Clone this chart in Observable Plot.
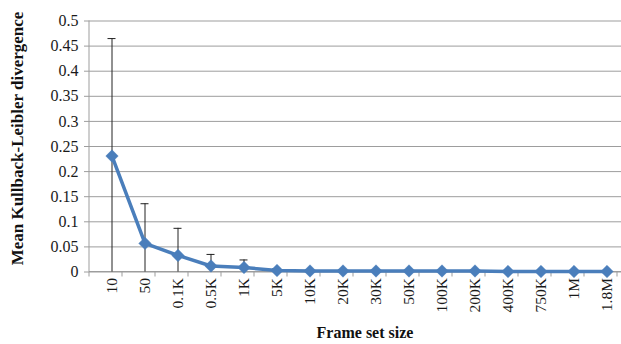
<!DOCTYPE html>
<html>
<head>
<meta charset="utf-8">
<script src="https://cdn.jsdelivr.net/npm/d3@7"></script>
<script src="https://cdn.jsdelivr.net/npm/@observablehq/plot@0.6"></script>
<style>
  html, body { margin: 0; padding: 0; background: #fff; }
  #chart { width: 621px; height: 344px; overflow: hidden; }
</style>
</head>
<body>
<div id="chart"></div>
<script>
const categories = ["10","50","0.1K","0.5K","1K","5K","10K","20K","30K","50K","100K","200K","400K","750K","1M","1.8M"];
const means  = [0.231,0.057,0.033,0.012,0.009,0.003,0.002,0.002,0.002,0.002,0.002,0.002,0.001,0.001,0.001,0.001];
const errors = [0.234,0.079,0.054,0.023,0.015,0.004,0.003,0.003,0.002,0.002,0.002,0.002,0.002,0.002,0.001,0.001];
const yTicks = [0,0.05,0.1,0.15,0.2,0.25,0.3,0.35,0.4,0.45,0.5];
const yTickLabels = ["0","0.05","0.1","0.15","0.2","0.25","0.3","0.35","0.4","0.45","0.5"];
const xTitle = "Frame set size";
const yTitle = "Mean Kullback-Leibler divergence";

const data = categories.map((c, i) => ({cat: c, m: means[i], e: errors[i]}));
const blue = "#4a7ebb";

const chart = Plot.plot({
  width: 621,
  height: 344,
  marginLeft: 89,
  marginRight: -7,
  marginTop: 20.5,
  marginBottom: 72.5,
  style: "font-family: 'Liberation Serif', serif; font-size: 15px; color: #1a1a1a; background: #fff;",
  x: {domain: categories, padding: 0, label: null},
  y: {domain: [0, 0.5], label: null},
  marks: [
    Plot.ruleY(yTicks, {stroke: "#9d9d9d", strokeWidth: 1}),
    Plot.axisY({ticks: yTicks, tickFormat: (d) => yTickLabels[yTicks.indexOf(d)], tickSize: 5, tickPadding: 6, fontSize: 16, stroke: "#9d9d9d", label: null}),
    Plot.axisX({tickSize: 0, tickPadding: 6, tickRotate: -90, fontSize: 15.5, label: null}),
    Plot.ruleX(data, {x: "cat", y1: (d) => Math.max(0, d.m - d.e), y2: (d) => d.m + d.e, stroke: "#222", strokeWidth: 1}),
    Plot.tickY(data, {x: "cat", y: (d) => d.m + d.e, stroke: "#222", strokeWidth: 1, insetLeft: 12.5, insetRight: 12.5}),
    Plot.line(data, {x: "cat", y: "m", stroke: blue, strokeWidth: 3.5, strokeLinejoin: "round"}),
    Plot.dot(data, {x: "cat", y: "m", symbol: "diamond2", r: 5.6, fill: blue, stroke: blue, strokeWidth: 0.5}),
    Plot.text([yTitle], {frameAnchor: "left", textAnchor: "middle", lineAnchor: "middle", rotate: -90, dx: -72, dy: -8, fontWeight: "bold", fontSize: 17, fill: "#111"}),
    Plot.text([xTitle], {frameAnchor: "bottom", textAnchor: "middle", lineAnchor: "middle", dx: 6, dy: 61, fontWeight: "bold", fontSize: 16, fill: "#111"})
  ]
});

const svg = d3.select(chart);
svg.attr("font-family", "Liberation Serif");

// axis lines and category tick marks from the scales
const sx = chart.scale("x"), sy = chart.scale("y");
const y0 = sy.apply(0), yTop = sy.apply(0.5);
const x0 = sx.range[0], x1 = sx.range[1];
const g = svg.append("g").attr("stroke", "#9d9d9d").attr("stroke-width", 1);
g.append("line").attr("x1", x0).attr("x2", x0).attr("y1", yTop).attr("y2", y0);
g.append("line").attr("x1", x0).attr("x2", x1).attr("y1", y0).attr("y2", y0);
for (let i = 0; i <= categories.length; i++) {
  const x = x0 + i * sx.step;
  g.append("line").attr("x1", x).attr("x2", x).attr("y1", y0).attr("y2", y0 + 5);
}
const node = g.node();
node.parentNode.insertBefore(node, node.parentNode.children[3] || null);

document.getElementById("chart").appendChild(chart);
</script>
</body>
</html>
